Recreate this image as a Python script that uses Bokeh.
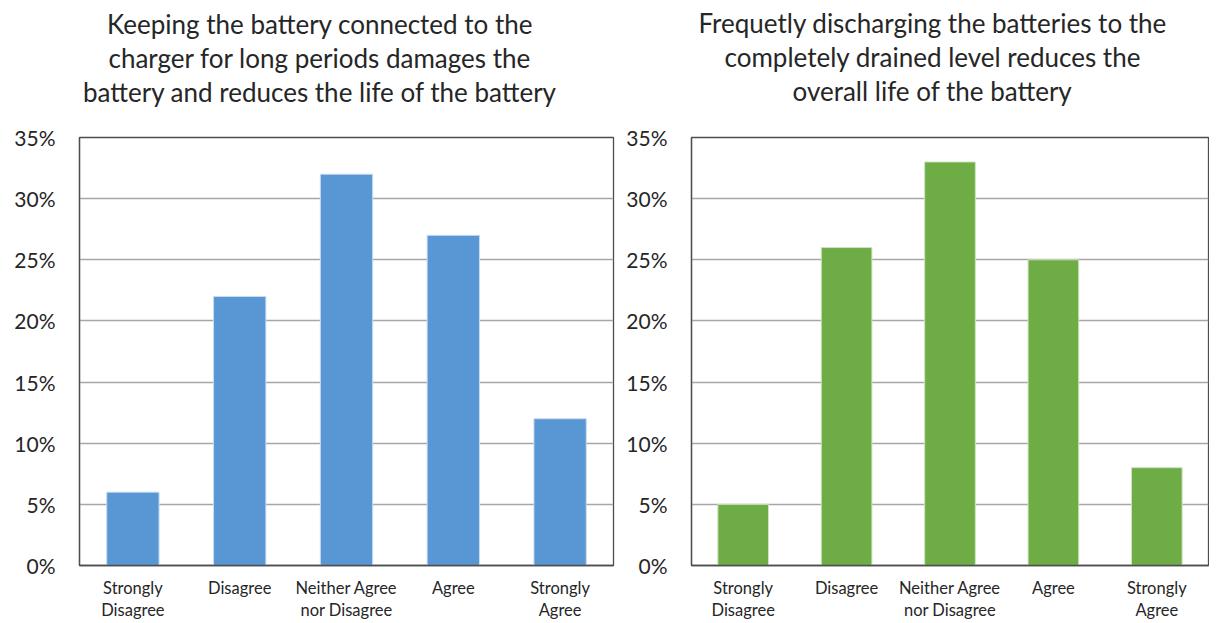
from bokeh.plotting import figure
from bokeh.layouts import row
from bokeh.models import FactorRange, NumeralTickFormatter, FixedTicker, Title
from bokeh.embed import file_html
from bokeh.resources import INLINE

categories = ["Strongly\nDisagree", "Disagree", "Neither Agree\nnor Disagree", "Agree", "Strongly\nAgree"]
left_values = [0.06, 0.22, 0.32, 0.27, 0.12]
right_values = [0.05, 0.26, 0.33, 0.25, 0.08]
left_title = ["Keeping the battery connected to the",
              "charger for long periods damages the",
              "battery and reduces the life of the battery"]
right_title = ["Frequetly discharging the batteries to the",
               "completely drained level reduces the",
               "overall life of the battery"]
y_ticks = [0, 0.05, 0.10, 0.15, 0.20, 0.25, 0.30, 0.35]

FONT = "Lato"
H = 622


def style_title(t, offset, standoff, size="26px"):
    t.align = "left"
    t.offset = offset
    t.standoff = standoff
    t.text_font = FONT
    t.text_font_size = size
    t.text_font_style = "normal"
    t.text_color = "#262626"


def make(values, title_lines, color, edge, width, bl, br, bt, bb, offsets, gap):
    p = figure(x_range=FactorRange(*categories), y_range=(0, 0.35),
               width=width, height=H, output_backend="svg",
               title=title_lines[0],
               toolbar_location=None, min_border_left=bl, min_border_right=br,
               min_border_top=bt, min_border_bottom=bb)
    p.vbar(x=categories, top=values, width=0.49, fill_color=color,
           line_color=edge, line_width=1)
    style_title(p.title, offsets[0], 0)
    spacer = Title(text=" ")
    style_title(spacer, 0, gap, "2px")
    p.add_layout(spacer, "above")
    for i in (2, 1):
        t = Title(text=title_lines[i])
        style_title(t, offsets[i], 0)
        p.add_layout(t, "above")
    p.outline_line_color = "#4d4d4d"
    p.outline_line_width = 1.3
    p.xgrid.grid_line_color = None
    p.ygrid.grid_line_color = "#a6a6a6"
    p.ygrid.grid_line_width = 1.3
    p.yaxis.ticker = FixedTicker(ticks=y_ticks)
    p.yaxis.formatter = NumeralTickFormatter(format="0%")
    for ax in (p.xaxis, p.yaxis):
        ax.major_tick_line_color = None
        ax.minor_tick_line_color = None
        ax.axis_line_color = "#4d4d4d"
        ax.axis_line_width = 1.3
        ax.major_label_text_font = FONT
        ax.major_label_text_color = "#262626"
    p.yaxis.major_label_text_font_size = "21px"
    p.yaxis.major_label_standoff = 18
    p.xaxis.major_label_text_font_size = "16.5px"
    p.xaxis.major_label_standoff = 6
    p.xaxis.major_label_text_line_height = 1.1
    p.x_range.range_padding = 0
    return p


left = make(left_values, left_title, "#5897d4", "#c8dcef", 620, 79, 7, 137, H - 568,
            [27.5, 29, 3.5], 26)
right = make(right_values, right_title, "#6eac45", "#cfe3c2", 589, 71, 1, 133, H - 567,
             [7, 33, 101], 27)

layout = row(left, right, spacing=0)
open("out.html", "w").write(file_html(layout, INLINE))
